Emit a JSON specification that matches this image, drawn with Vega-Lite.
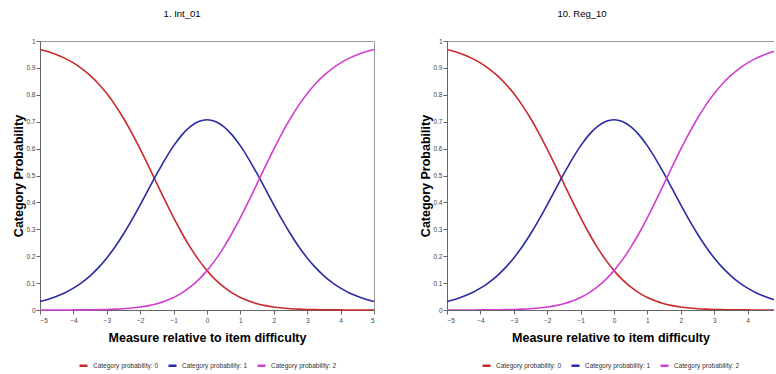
{
  "$schema": "https://vega.github.io/schema/vega-lite/v6.json",
  "padding": {"left": 12, "top": 8, "right": 0, "bottom": 0},
  "background": "white",
  "spacing": 41,
  "datasets": {
    "curves": [
      {"x": -5, "c": "Category probability: 0", "p": 0.9684},
      {"x": -4.75, "c": "Category probability: 0", "p": 0.9598},
      {"x": -4.5, "c": "Category probability: 0", "p": 0.949},
      {"x": -4.25, "c": "Category probability: 0", "p": 0.9354},
      {"x": -4, "c": "Category probability: 0", "p": 0.9185},
      {"x": -3.75, "c": "Category probability: 0", "p": 0.8976},
      {"x": -3.5, "c": "Category probability: 0", "p": 0.872},
      {"x": -3.25, "c": "Category probability: 0", "p": 0.8412},
      {"x": -3, "c": "Category probability: 0", "p": 0.8045},
      {"x": -2.75, "c": "Category probability: 0", "p": 0.7617},
      {"x": -2.5, "c": "Category probability: 0", "p": 0.7127},
      {"x": -2.25, "c": "Category probability: 0", "p": 0.6578},
      {"x": -2, "c": "Category probability: 0", "p": 0.5981},
      {"x": -1.75, "c": "Category probability: 0", "p": 0.5349},
      {"x": -1.5, "c": "Category probability: 0", "p": 0.47},
      {"x": -1.25, "c": "Category probability: 0", "p": 0.4055},
      {"x": -1, "c": "Category probability: 0", "p": 0.3434},
      {"x": -0.75, "c": "Category probability: 0", "p": 0.2853},
      {"x": -0.5, "c": "Category probability: 0", "p": 0.2327},
      {"x": -0.25, "c": "Category probability: 0", "p": 0.1863},
      {"x": 0, "c": "Category probability: 0", "p": 0.1464},
      {"x": 0.25, "c": "Category probability: 0", "p": 0.113},
      {"x": 0.5, "c": "Category probability: 0", "p": 0.0856},
      {"x": 0.75, "c": "Category probability: 0", "p": 0.0637},
      {"x": 1, "c": "Category probability: 0", "p": 0.0465},
      {"x": 1.25, "c": "Category probability: 0", "p": 0.0333},
      {"x": 1.5, "c": "Category probability: 0", "p": 0.0234},
      {"x": 1.75, "c": "Category probability: 0", "p": 0.0162},
      {"x": 2, "c": "Category probability: 0", "p": 0.011},
      {"x": 2.25, "c": "Category probability: 0", "p": 0.0073},
      {"x": 2.5, "c": "Category probability: 0", "p": 0.0048},
      {"x": 2.75, "c": "Category probability: 0", "p": 0.0031},
      {"x": 3, "c": "Category probability: 0", "p": 0.002},
      {"x": 3.25, "c": "Category probability: 0", "p": 0.0013},
      {"x": 3.5, "c": "Category probability: 0", "p": 0.0008},
      {"x": 3.75, "c": "Category probability: 0", "p": 0.0005},
      {"x": 4, "c": "Category probability: 0", "p": 0.0003},
      {"x": 4.25, "c": "Category probability: 0", "p": 0.0002},
      {"x": 4.5, "c": "Category probability: 0", "p": 0.0001},
      {"x": 4.75, "c": "Category probability: 0", "p": 0.0001},
      {"x": 5, "c": "Category probability: 0", "p": 0.0},
      {"x": -5, "c": "Category probability: 1", "p": 0.0315},
      {"x": -4.75, "c": "Category probability: 1", "p": 0.0401},
      {"x": -4.5, "c": "Category probability: 1", "p": 0.0509},
      {"x": -4.25, "c": "Category probability: 1", "p": 0.0644},
      {"x": -4, "c": "Category probability: 1", "p": 0.0812},
      {"x": -3.75, "c": "Category probability: 1", "p": 0.102},
      {"x": -3.5, "c": "Category probability: 1", "p": 0.1272},
      {"x": -3.25, "c": "Category probability: 1", "p": 0.1575},
      {"x": -3, "c": "Category probability: 1", "p": 0.1935},
      {"x": -2.75, "c": "Category probability: 1", "p": 0.2352},
      {"x": -2.5, "c": "Category probability: 1", "p": 0.2825},
      {"x": -2.25, "c": "Category probability: 1", "p": 0.3349},
      {"x": -2, "c": "Category probability: 1", "p": 0.391},
      {"x": -1.75, "c": "Category probability: 1", "p": 0.449},
      {"x": -1.5, "c": "Category probability: 1", "p": 0.5066},
      {"x": -1.25, "c": "Category probability: 1", "p": 0.5612},
      {"x": -1, "c": "Category probability: 1", "p": 0.6102},
      {"x": -0.75, "c": "Category probability: 1", "p": 0.651},
      {"x": -0.5, "c": "Category probability: 1", "p": 0.6817},
      {"x": -0.25, "c": "Category probability: 1", "p": 0.7007},
      {"x": 0, "c": "Category probability: 1", "p": 0.7072},
      {"x": 0.25, "c": "Category probability: 1", "p": 0.7007},
      {"x": 0.5, "c": "Category probability: 1", "p": 0.6817},
      {"x": 0.75, "c": "Category probability: 1", "p": 0.651},
      {"x": 1, "c": "Category probability: 1", "p": 0.6102},
      {"x": 1.25, "c": "Category probability: 1", "p": 0.5612},
      {"x": 1.5, "c": "Category probability: 1", "p": 0.5066},
      {"x": 1.75, "c": "Category probability: 1", "p": 0.449},
      {"x": 2, "c": "Category probability: 1", "p": 0.391},
      {"x": 2.25, "c": "Category probability: 1", "p": 0.3349},
      {"x": 2.5, "c": "Category probability: 1", "p": 0.2825},
      {"x": 2.75, "c": "Category probability: 1", "p": 0.2352},
      {"x": 3, "c": "Category probability: 1", "p": 0.1935},
      {"x": 3.25, "c": "Category probability: 1", "p": 0.1575},
      {"x": 3.5, "c": "Category probability: 1", "p": 0.1272},
      {"x": 3.75, "c": "Category probability: 1", "p": 0.102},
      {"x": 4, "c": "Category probability: 1", "p": 0.0812},
      {"x": 4.25, "c": "Category probability: 1", "p": 0.0644},
      {"x": 4.5, "c": "Category probability: 1", "p": 0.0509},
      {"x": 4.75, "c": "Category probability: 1", "p": 0.0401},
      {"x": 5, "c": "Category probability: 1", "p": 0.0315},
      {"x": -5, "c": "Category probability: 2", "p": 0.0},
      {"x": -4.75, "c": "Category probability: 2", "p": 0.0001},
      {"x": -4.5, "c": "Category probability: 2", "p": 0.0001},
      {"x": -4.25, "c": "Category probability: 2", "p": 0.0002},
      {"x": -4, "c": "Category probability: 2", "p": 0.0003},
      {"x": -3.75, "c": "Category probability: 2", "p": 0.0005},
      {"x": -3.5, "c": "Category probability: 2", "p": 0.0008},
      {"x": -3.25, "c": "Category probability: 2", "p": 0.0013},
      {"x": -3, "c": "Category probability: 2", "p": 0.002},
      {"x": -2.75, "c": "Category probability: 2", "p": 0.0031},
      {"x": -2.5, "c": "Category probability: 2", "p": 0.0048},
      {"x": -2.25, "c": "Category probability: 2", "p": 0.0073},
      {"x": -2, "c": "Category probability: 2", "p": 0.011},
      {"x": -1.75, "c": "Category probability: 2", "p": 0.0162},
      {"x": -1.5, "c": "Category probability: 2", "p": 0.0234},
      {"x": -1.25, "c": "Category probability: 2", "p": 0.0333},
      {"x": -1, "c": "Category probability: 2", "p": 0.0465},
      {"x": -0.75, "c": "Category probability: 2", "p": 0.0637},
      {"x": -0.5, "c": "Category probability: 2", "p": 0.0856},
      {"x": -0.25, "c": "Category probability: 2", "p": 0.113},
      {"x": 0, "c": "Category probability: 2", "p": 0.1464},
      {"x": 0.25, "c": "Category probability: 2", "p": 0.1863},
      {"x": 0.5, "c": "Category probability: 2", "p": 0.2327},
      {"x": 0.75, "c": "Category probability: 2", "p": 0.2853},
      {"x": 1, "c": "Category probability: 2", "p": 0.3434},
      {"x": 1.25, "c": "Category probability: 2", "p": 0.4055},
      {"x": 1.5, "c": "Category probability: 2", "p": 0.47},
      {"x": 1.75, "c": "Category probability: 2", "p": 0.5349},
      {"x": 2, "c": "Category probability: 2", "p": 0.5981},
      {"x": 2.25, "c": "Category probability: 2", "p": 0.6578},
      {"x": 2.5, "c": "Category probability: 2", "p": 0.7127},
      {"x": 2.75, "c": "Category probability: 2", "p": 0.7617},
      {"x": 3, "c": "Category probability: 2", "p": 0.8045},
      {"x": 3.25, "c": "Category probability: 2", "p": 0.8412},
      {"x": 3.5, "c": "Category probability: 2", "p": 0.872},
      {"x": 3.75, "c": "Category probability: 2", "p": 0.8976},
      {"x": 4, "c": "Category probability: 2", "p": 0.9185},
      {"x": 4.25, "c": "Category probability: 2", "p": 0.9354},
      {"x": 4.5, "c": "Category probability: 2", "p": 0.949},
      {"x": 4.75, "c": "Category probability: 2", "p": 0.9598},
      {"x": 5, "c": "Category probability: 2", "p": 0.9684}
    ]
  },
  "hconcat": [
    {
      "width": 334,
      "height": 269,
      "title": {"text": "1. Int_01", "dx": -13},
      "data": {"name": "curves"},
      "mark": {"type": "line", "strokeWidth": 1.6, "interpolate": "monotone"},
      "encoding": {
        "x": {
          "field": "x", "type": "quantitative",
          "scale": {"domain": [-5, 5], "nice": false},
          "axis": {"values": [-5, -4, -3, -2, -1, 0, 1, 2, 3, 4, 5], "format": "d", "title": "Measure relative to item difficulty"}
        },
        "y": {
          "field": "p", "type": "quantitative",
          "scale": {"domain": [0, 1], "nice": false},
          "axis": {"values": [0, 0.1, 0.2, 0.3, 0.4, 0.5, 0.6, 0.7, 0.8, 0.9, 1], "format": "~g", "title": "Category  Probability"}
        },
        "color": {
          "field": "c", "type": "nominal",
          "scale": {"domain": ["Category probability: 0", "Category probability: 1", "Category probability: 2"], "range": ["#c82a2a", "#2a2aa4", "#d23ed2"]},
          "legend": {"title": null}
        }
      }
    },
    {
      "width": 327,
      "height": 269,
      "title": {"text": "10. Reg_10", "dx": -15},
      "view": {"stroke": null},
      "data": {"name": "curves"},
      "resolve": {"axis": {"x": "independent", "y": "independent"}},
      "layer": [
        {
          "mark": {"type": "line", "strokeWidth": 1.6, "interpolate": "monotone", "clip": true},
          "encoding": {
            "x": {
              "field": "x", "type": "quantitative",
              "scale": {"domain": [-5, 4.79], "nice": false},
              "axis": {"values": [-5, -4, -3, -2, -1, 0, 1, 2, 3, 4], "format": "d", "title": "Measure relative to item difficulty"}
            },
            "y": {
              "field": "p", "type": "quantitative",
              "scale": {"domain": [0, 1], "nice": false},
              "axis": {"values": [0, 0.1, 0.2, 0.3, 0.4, 0.5, 0.6, 0.7, 0.8, 0.9, 1], "format": "~g", "title": "Category  Probability"}
            },
            "color": {
              "field": "c", "type": "nominal",
              "scale": {"domain": ["Category probability: 0", "Category probability: 1", "Category probability: 2"], "range": ["#c82a2a", "#2a2aa4", "#d23ed2"]},
              "legend": {"title": null}
            }
          }
        },
        {
          "mark": {"type": "line", "strokeOpacity": 0, "clip": true},
          "encoding": {
            "x": {
              "field": "x", "type": "quantitative",
              "axis": {"orient": "top", "labels": false, "ticks": false, "title": null, "domainColor": "#999"}
            },
            "y": {"field": "p", "type": "quantitative", "axis": null}
          }
        }
      ]
    }
  ],
  "resolve": {"scale": {"color": "independent"}, "legend": {"color": "independent"}},
  "config": {
    "font": "Liberation Sans",
    "view": {"stroke": "#999"},
    "title": {"fontSize": 9.5, "fontWeight": "normal", "offset": 20, "frame": "bounds", "color": "#000"},
    "axis": {
      "grid": false,
      "labelFontSize": 6.5,
      "labelColor": "#444",
      "tickColor": "#666",
      "domainColor": "#666",
      "tickSize": 4,
      "titleFontSize": 12.5,
      "titleFontWeight": "bold",
      "titleColor": "#000"
    },
    "axisY": {"titlePadding": 0, "labelPadding": 1},
    "axisX": {"titlePadding": 8, "labelPadding": 3},
    "legend": {
      "orient": "bottom",
      "direction": "horizontal",
      "symbolType": "stroke",
      "symbolStrokeWidth": 2.5,
      "symbolSize": 64,
      "labelFontSize": 6.5,
      "labelColor": "#333",
      "columnPadding": 4,
      "offset": 16,
      "layout": {"bottom": {"anchor": "middle"}}
    }
  }
}
